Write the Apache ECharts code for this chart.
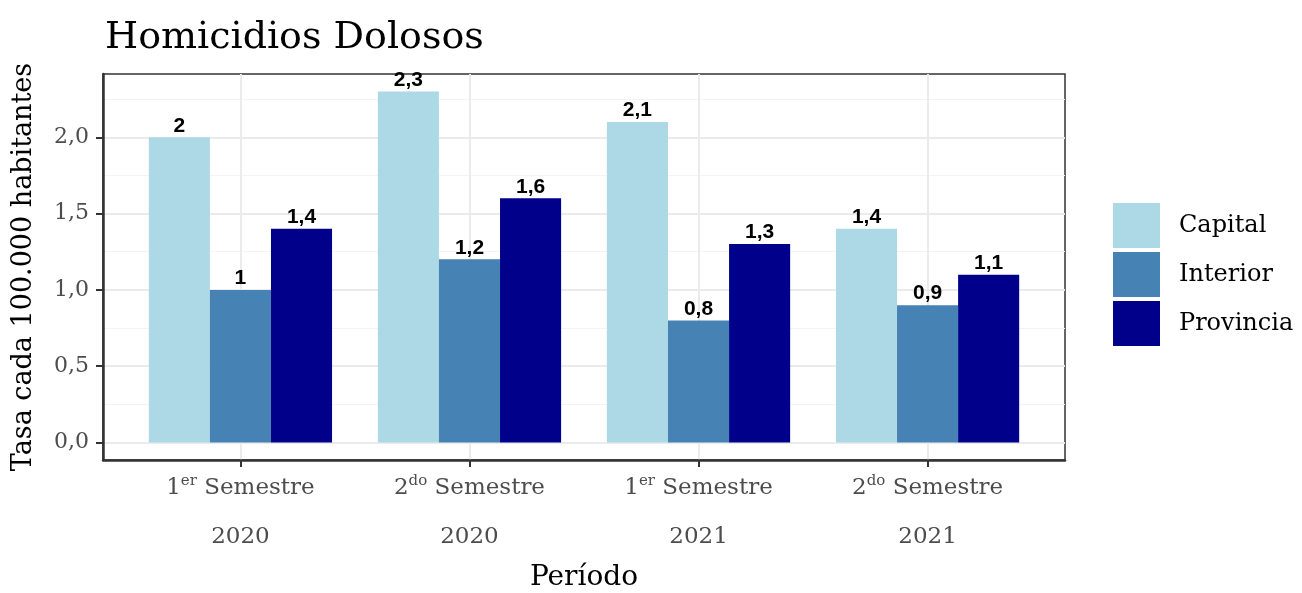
<!DOCTYPE html>
<html lang="es">
<head>
<meta charset="UTF-8">
<title>Homicidios Dolosos</title>
<script src="https://cdn.jsdelivr.net/npm/echarts@6/dist/echarts.min.js"></script>
<style>
  html, body { margin: 0; padding: 0; background: #fff; }
  #main { width: 1302px; height: 593px; }
</style>
</head>
<body>
<div id="main"></div>
<script>
// periodos (semestre + año)
var semestres = ['1', '2', '1', '2'];
var sufijos = ['er', 'do', 'er', 'do'];
var anios = ['2020', '2020', '2021', '2021'];

// tasas por 100.000 habitantes
var capital = [2.0, 2.3, 2.1, 1.4];
var interior = [1.0, 1.2, 0.8, 0.9];
var provincia = [1.4, 1.6, 1.3, 1.1];

var yTicks = [0, 0.5, 1, 1.5, 2];
var yMinor = [0.25, 0.75, 1.25, 1.75, 2.25];
var xPos = [1, 2, 3, 4];

var serif = 'DejaVu Serif';

function pares(vals) {
    return vals.map(function (v, i) { return [xPos[i], v]; });
}
function coma(v) {
    return String(v).replace('.', ',');
}

function serie(nombre, vals, color) {
    return {
        name: nombre,
        type: 'bar',
        yAxisIndex: 0,
        barGap: '0%',
        barCategoryGap: '20%',
        itemStyle: { color: color },
        label: {
            show: true,
            position: 'top',
            distance: 1,
            color: '#000',
            fontFamily: 'Liberation Sans',
            fontWeight: 'bold',
            fontSize: 21,
            formatter: function (p) { return coma(p.value[1]); }
        },
        data: pares(vals)
    };
}

var myChart = echarts.init(document.getElementById('main'));

var option = {
    animation: false,
    backgroundColor: '#fff',
    title: {
        text: 'Homicidios Dolosos',
        left: 100,
        top: 14,
        textStyle: { fontFamily: serif, fontWeight: 'normal', fontSize: 38, color: '#000' }
    },
    legend: {
        orient: 'vertical',
        left: 1113,
        top: 203,
        padding: 0,
        itemWidth: 47,
        itemHeight: 45,
        itemGap: 4,
        icon: 'rect',
        textStyle: { fontFamily: serif, fontSize: 24, color: '#000', padding: [0, 0, 0, 14] },
        data: ['Capital', 'Interior', 'Provincia']
    },
    grid: {
        left: 103,
        right: 237,
        top: 74,
        bottom: 133,
        outerBoundsMode: 'none',
        show: true,
        borderColor: '#333',
        borderWidth: 1.5,
        backgroundColor: 'transparent'
    },
    xAxis: {
        type: 'value',
        min: 0.4,
        max: 4.6,
        name: 'Período',
        nameLocation: 'middle',
        nameGap: 104,
        nameTextStyle: { fontFamily: serif, fontSize: 28, color: '#000' },
        axisLine: { show: true, onZero: false, lineStyle: { color: '#333', width: 2.5 } },
        axisTick: { show: true, length: 7, customValues: xPos, lineStyle: { color: '#333', width: 2 } },
        splitLine: { show: true, lineStyle: { color: '#ebebeb', width: 2 } },
        axisLabel: {
            customValues: xPos,
            margin: 4,
            formatter: function (v) {
                var i = Math.round(v) - 1;
                return '{n|' + semestres[i] + '}{sup|' + sufijos[i] + '}{n| Semestre}\n{y|' + anios[i] + '}';
            },
            rich: {
                n: { fontFamily: serif, fontSize: 23, color: '#4d4d4d', lineHeight: 49 },
                sup: { fontFamily: serif, fontSize: 15, color: '#4d4d4d', height: 34, verticalAlign: 'top' },
                y: { fontFamily: serif, fontSize: 23, color: '#4d4d4d', lineHeight: 49 }
            }
        }
    },
    yAxis: [{
        type: 'value',
        position: 'left',
        min: -0.115,
        max: 2.415,
        name: 'Tasa cada 100.000 habitantes',
        nameLocation: 'middle',
        nameRotate: 90,
        nameGap: 66,
        nameTextStyle: { fontFamily: serif, fontSize: 27, color: '#000' },
        axisLine: { show: true, onZero: false, lineStyle: { color: '#333', width: 2.5 } },
        axisTick: { show: true, length: 7, customValues: yTicks, lineStyle: { color: '#333', width: 2 } },
        splitLine: { show: true, lineStyle: { color: '#ebebeb', width: 2 } },
        axisLabel: {
            customValues: yTicks,
            margin: 14,
            fontFamily: serif,
            fontSize: 22,
            color: '#4d4d4d',
            formatter: function (v) { return v.toFixed(1).replace('.', ','); }
        }
    }, {
        type: 'value',
        position: 'left',
        min: -0.115,
        max: 2.415,
        axisLine: { show: false },
        axisTick: { show: false, customValues: yMinor },
        axisLabel: { show: false, customValues: yMinor },
        splitLine: { show: true, lineStyle: { color: '#f4f4f4', width: 1 } }
    }],
    series: [
        serie('Capital', capital, '#ADD8E6'),
        serie('Interior', interior, '#4682B4'),
        serie('Provincia', provincia, '#00008B')
    ]
};

myChart.setOption(option);
</script>
</body>
</html>
